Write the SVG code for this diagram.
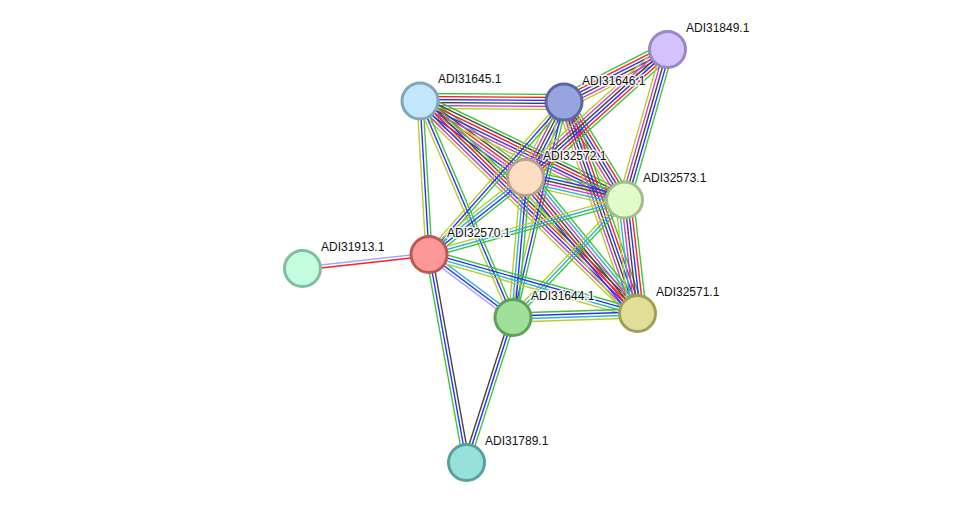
<svg xmlns="http://www.w3.org/2000/svg" width="975" height="508" viewBox="0 0 975 508">
<style>
path{fill:none;stroke-width:1.4}
.n{stroke:#3dc43d}.f{stroke:#ff1f1f}.c{stroke:#2e2eff}.x{stroke:#444444}.e{stroke:#d23ad2}.d{stroke:#2ab6d6}.t{stroke:#b8cc2a}.h{stroke:#a6a6ff}
circle{stroke-width:3}
text{font-family:"Liberation Sans",Arial,sans-serif;font-size:12px;fill:#111;stroke:#fff;stroke-width:3;stroke-opacity:0.85;paint-order:stroke;stroke-linejoin:round}
</style>
<rect width="975" height="508" fill="#fff"/>
<g id="edges">
<g transform="translate(420 101) rotate(0.4)"><path class="n" d="M0-7.5h144"/><path class="f" d="M0-4.5h144"/><path class="c" d="M0-1.5h144"/><path class="x" d="M0 1.5h144"/><path class="e" d="M0 4.5h144"/><path class="t" d="M0 7.5h144"/></g>
<g transform="translate(420 101) rotate(35.95)"><path class="n" d="M0-7.5h130"/><path class="x" d="M0-4.5h130"/><path class="f" d="M0-1.5h130"/><path class="e" d="M0 1.5h130"/><path class="c" d="M0 4.5h130"/><path class="t" d="M0 7.5h130"/></g>
<g transform="translate(420 101) rotate(25.83)"><path class="n" d="M0-7.5h227"/><path class="x" d="M0-4.5h227"/><path class="f" d="M0-1.5h227"/><path class="c" d="M0 1.5h227"/><path class="e" d="M0 4.5h227"/><path class="t" d="M0 7.5h227"/></g>
<g transform="translate(420 101) rotate(44.33)"><path class="n" d="M0-7.5h304"/><path class="x" d="M0-4.5h304"/><path class="f" d="M0-1.5h304"/><path class="c" d="M0 1.5h304"/><path class="e" d="M0 4.5h304"/><path class="t" d="M0 7.5h304"/></g>
<g transform="translate(420 101) rotate(86.64)"><path class="n" d="M0-3h154"/><path class="c" d="M0 0h154"/><path class="t" d="M0 3h154"/></g>
<g transform="translate(420 101) rotate(66.76)"><path class="n" d="M0-3h236"/><path class="c" d="M0 0h236"/><path class="t" d="M0 3h236"/></g>
<g transform="translate(564 102) rotate(-26.9)"><path class="n" d="M0-7.5h116"/><path class="f" d="M0-4.5h116"/><path class="c" d="M0-1.5h116"/><path class="x" d="M0 1.5h116"/><path class="e" d="M0 4.5h116"/><path class="t" d="M0 7.5h116"/></g>
<g transform="translate(564 102) rotate(117.02)"><path class="n" d="M0-6h85"/><path class="c" d="M0-3h85"/><path class="x" d="M0 0h85"/><path class="e" d="M0 3h85"/><path class="t" d="M0 6h85"/></g>
<g transform="translate(564 102) rotate(58.31)"><path class="n" d="M0-7.5h115"/><path class="f" d="M0-4.5h115"/><path class="c" d="M0-1.5h115"/><path class="x" d="M0 1.5h115"/><path class="e" d="M0 4.5h115"/><path class="t" d="M0 7.5h115"/></g>
<g transform="translate(564 102) rotate(70.84)"><path class="n" d="M0-7.5h224"/><path class="f" d="M0-4.5h224"/><path class="c" d="M0-1.5h224"/><path class="x" d="M0 1.5h224"/><path class="e" d="M0 4.5h224"/><path class="t" d="M0 7.5h224"/></g>
<g transform="translate(564 102) rotate(131.52)"><path class="n" d="M0-3h204"/><path class="c" d="M0 0h204"/><path class="t" d="M0 3h204"/></g>
<g transform="translate(564 102) rotate(103.32)"><path class="n" d="M0-3h222"/><path class="c" d="M0 0h222"/><path class="t" d="M0 3h222"/></g>
<g transform="translate(667.5 49.5) rotate(137.97)"><path class="n" d="M0-7.5h191"/><path class="f" d="M0-4.5h191"/><path class="c" d="M0-1.5h191"/><path class="x" d="M0 1.5h191"/><path class="e" d="M0 4.5h191"/><path class="t" d="M0 7.5h191"/></g>
<g transform="translate(667.5 49.5) rotate(105.95)"><path class="n" d="M0-6h157"/><path class="c" d="M0-3h157"/><path class="x" d="M0 0h157"/><path class="e" d="M0 3h157"/><path class="t" d="M0 6h157"/></g>
<g transform="translate(525.5 177.5) rotate(12.8)"><path class="n" d="M0-7.5h102"/><path class="c" d="M0-4.5h102"/><path class="x" d="M0-1.5h102"/><path class="e" d="M0 1.5h102"/><path class="d" d="M0 4.5h102"/><path class="t" d="M0 7.5h102"/></g>
<g transform="translate(525.5 177.5) rotate(50.53)"><path class="n" d="M0-9h176"/><path class="d" d="M0-6h176"/><path class="e" d="M0-3h176"/><path class="x" d="M0 0h176"/><path class="f" d="M0 3h176"/><path class="c" d="M0 6h176"/><path class="t" d="M0 9h176"/></g>
<g transform="translate(525.5 177.5) rotate(141.41)"><path class="n" d="M0-4.5h124"/><path class="c" d="M0-1.5h124"/><path class="d" d="M0 1.5h124"/><path class="t" d="M0 4.5h124"/></g>
<g transform="translate(525.5 177.5) rotate(95.1)"><path class="n" d="M0-4.5h141"/><path class="c" d="M0-1.5h141"/><path class="d" d="M0 1.5h141"/><path class="t" d="M0 4.5h141"/></g>
<g transform="translate(624.5 200) rotate(83.47)"><path class="n" d="M0-9h114"/><path class="f" d="M0-6h114"/><path class="c" d="M0-3h114"/><path class="x" d="M0 0h114"/><path class="e" d="M0 3h114"/><path class="d" d="M0 6h114"/><path class="t" d="M0 9h114"/></g>
<g transform="translate(624.5 200) rotate(164.42)"><path class="n" d="M0-3h203"/><path class="d" d="M0 0h203"/><path class="t" d="M0 3h203"/></g>
<g transform="translate(624.5 200) rotate(133.5)"><path class="n" d="M0-3h162"/><path class="d" d="M0 0h162"/><path class="t" d="M0 3h162"/></g>
<g transform="translate(429 254.5) rotate(173.68)"><path class="f" d="M0-1.5h127"/><path class="h" d="M0 1.5h127"/></g>
<g transform="translate(429 254.5) rotate(36.87)"><path class="d" d="M0-3h105"/><path class="c" d="M0 0h105"/><path class="h" d="M0 3h105"/></g>
<g transform="translate(429 254.5) rotate(15.8)"><path class="n" d="M0-4.5h217"/><path class="c" d="M0-1.5h217"/><path class="d" d="M0 1.5h217"/><path class="t" d="M0 4.5h217"/></g>
<g transform="translate(429 254.5) rotate(79.78)"><path class="x" d="M0-3h211"/><path class="c" d="M0 0h211"/><path class="n" d="M0 3h211"/></g>
<g transform="translate(513 317.5) rotate(-1.84)"><path class="n" d="M0-4.5h125"/><path class="c" d="M0-1.5h125"/><path class="d" d="M0 1.5h125"/><path class="t" d="M0 4.5h125"/></g>
<g transform="translate(513 317.5) rotate(107.78)"><path class="n" d="M0-3h152"/><path class="c" d="M0 0h152"/><path class="x" d="M0 3h152"/></g>
</g>
<g id="ADI31849.1"><circle cx="667.5" cy="49.5" r="18" fill="#d3c2fb" stroke="#9a86c9"/><text x="686" y="32">ADI31849.1</text></g>
<g id="ADI31645.1"><circle cx="420" cy="101" r="18" fill="#c2e7fb" stroke="#80a6bd"/><text x="438" y="83">ADI31645.1</text></g>
<g id="ADI31646.1"><circle cx="564" cy="102" r="18" fill="#97a4de" stroke="#5a67a1"/><text x="582" y="85">ADI31646.1</text></g>
<g id="ADI32572.1"><circle cx="525.5" cy="177.5" r="18" fill="#fddec4" stroke="#b9a18b"/><text x="543" y="160">ADI32572.1</text></g>
<g id="ADI32573.1"><circle cx="624.5" cy="200" r="18" fill="#e1fcc8" stroke="#a1bd89"/><text x="643" y="182">ADI32573.1</text></g>
<g id="ADI32570.1"><circle cx="429" cy="254.5" r="18" fill="#fc9898" stroke="#b95959"/><text x="447" y="237">ADI32570.1</text></g>
<g id="ADI31913.1"><circle cx="302.5" cy="268.5" r="18" fill="#c2fde0" stroke="#80be9f"/><text x="321" y="251">ADI31913.1</text></g>
<g id="ADI31644.1"><circle cx="513" cy="317.5" r="18" fill="#a1e09b" stroke="#61a05b"/><text x="531" y="300">ADI31644.1</text></g>
<g id="ADI32571.1"><circle cx="637.5" cy="313.5" r="18" fill="#e0de99" stroke="#a09f59"/><text x="656" y="296">ADI32571.1</text></g>
<g id="ADI31789.1"><circle cx="466.5" cy="462.5" r="18" fill="#98e0dc" stroke="#59a09c"/><text x="485" y="445">ADI31789.1</text></g>
</svg>
